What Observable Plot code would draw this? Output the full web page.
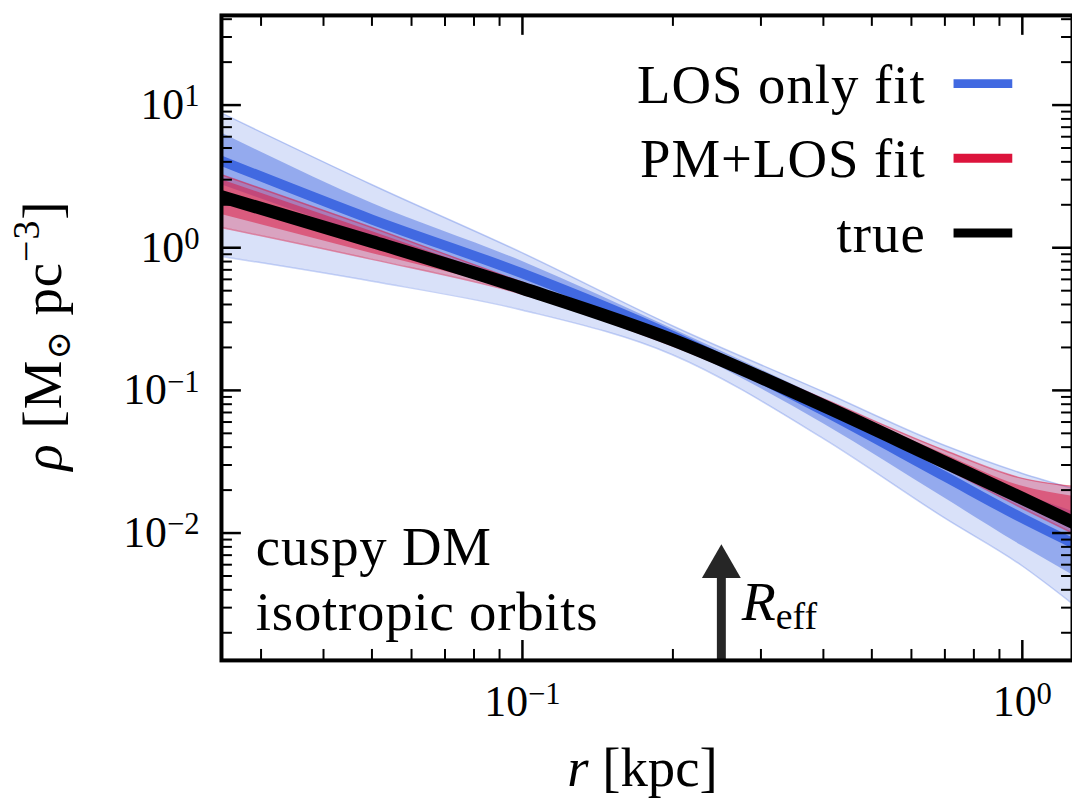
<!DOCTYPE html>
<html><head><meta charset="utf-8">
<script src="https://cdn.jsdelivr.net/npm/d3@7"></script>
<script src="https://cdn.jsdelivr.net/npm/@observablehq/plot@0.6"></script>
<style>
html,body{margin:0;padding:0;background:#fff;overflow:hidden;}
#chart{width:1072px;height:806px;overflow:hidden;position:relative;}
svg{display:block;}
</style></head><body><div id="chart"></div>
<script>
// ---- data ----
const radii      = [0.025, 0.05, 0.1, 0.2, 0.4, 0.7, 1.0, 1.26];
const trueRho    = [2.28, 1.107, 0.520, 0.2255, 0.0781, 0.0313, 0.01751, 0.01191];
const losMedian  = [4.07, 1.576, 0.66, 0.2405, 0.0721, 0.02494, 0.01271, 0.0085];
const los68Lo    = [2.765, 1.180, 0.5544, 0.2114, 0.05846, 0.01751, 0.0081, 0.005085];
const los68Hi    = [6.377, 2.05, 0.80, 0.2691, 0.08737, 0.03441, 0.01899, 0.01421];
const los95Lo    = [0.8695, 0.5818, 0.3651, 0.1772, 0.04595, 0.01271, 0.005875, 0.003191];
const los95Hi    = [8.79, 2.765, 0.92, 0.2825, 0.0978, 0.04107, 0.02618, 0.02057];
const pmOuterLo  = [1.386, 0.8288, 0.4722, 0.2047, 0.0721, 0.02837, 0.01492, 0.00998];
const pmOuterHi  = [3.248, 1.386, 0.5726, 0.2443, 0.08737, 0.0379, 0.02416, 0.02125];
const pmInnerLo  = [1.708, 0.9125, 0.4876, 0.2114, 0.07437, 0.0293, 0.0159, 0.01082];
const pmInnerHi  = [2.997, 1.299, 0.5544, 0.2366, 0.08461, 0.03553, 0.02125, 0.01809];
const xMajorTicks = [0.1, 1];
const yMajorTicks = [0.01, 0.1, 1, 10];
const legendLabels = ["LOS only fit", "PM+LOS fit", "true"];
const legendColors = ["#4169e1", "#dc143c", "#000000"];
const noteLines = ["cuspy DM", "isotropic orbits"];
const R_eff = 0.25;
const xDomain = [0.025, 1.26];
const yDomain = [0.00128, 42.5];

// ---- build table ----
const rows = radii.map((r, i) => ({
  r, truth: trueRho[i], med: losMedian[i],
  l68: los68Lo[i], h68: los68Hi[i], l95: los95Lo[i], h95: los95Hi[i],
  po: pmOuterLo[i], ph: pmOuterHi[i], pi: pmInnerLo[i], pj: pmInnerHi[i]
}));

function minorTicks(dom) {
  const out = [];
  for (let e = -4; e <= 2; e++) for (let m = 2; m <= 9; m++) {
    const v = m * Math.pow(10, e);
    if (v > dom[0] && v < dom[1]) out.push(v);
  }
  return out;
}
const xMinor = minorTicks(xDomain), yMinor = minorTicks(yDomain);

const W = 1077, H = 806, ML = 222, MT = 15, MB = 143, MR = 0;
const FW = W - ML - MR, FH = H - MT - MB;
const FONT = "'Liberation Serif', 'DejaVu Serif', serif";
const fmt = d => "10^" + String(Math.round(Math.log10(d))).replace("-", "\u2212");
const curve = "monotone-x";
const blue = "#4169e1", red = "#dc143c";

const plot = Plot.plot({
  width: W, height: H,
  marginLeft: ML, marginTop: MT, marginBottom: MB, marginRight: MR,
  style: {fontFamily: FONT, background: "white", overflow: "visible"},
  x: {type: "log", domain: xDomain},
  y: {type: "log", domain: yDomain},
  marks: [
    Plot.areaY(rows, {x: "r", y1: "l95", y2: "h95", fill: blue, fillOpacity: 0.2, curve, clip: "frame"}),
    Plot.lineY(rows, {x: "r", y: "l95", stroke: blue, strokeOpacity: 0.3, strokeWidth: 1.5, curve, clip: "frame"}),
    Plot.lineY(rows, {x: "r", y: "h95", stroke: blue, strokeOpacity: 0.3, strokeWidth: 1.5, curve, clip: "frame"}),
    Plot.areaY(rows, {x: "r", y1: "l68", y2: "h68", fill: blue, fillOpacity: 0.45, curve, clip: "frame"}),
    Plot.lineY(rows, {x: "r", y: "med", stroke: blue, strokeWidth: 10, curve, clip: "frame"}),
    Plot.areaY(rows, {x: "r", y1: "po", y2: "ph", fill: red, fillOpacity: 0.3, curve, clip: "frame"}),
    Plot.lineY(rows, {x: "r", y: "po", stroke: red, strokeOpacity: 0.45, strokeWidth: 1.5, curve, clip: "frame"}),
    Plot.lineY(rows, {x: "r", y: "ph", stroke: red, strokeOpacity: 0.45, strokeWidth: 1.5, curve, clip: "frame"}),
    Plot.areaY(rows, {x: "r", y1: "pi", y2: "pj", fill: red, fillOpacity: 0.5, curve, clip: "frame"}),
    Plot.lineY(rows, {x: "r", y: "truth", stroke: "black", strokeWidth: 13, curve, clip: "frame"}),
    // R_eff arrow
    Plot.ruleX([R_eff], {x: d => d, y1: yDomain[0], y2: 0.0058, stroke: "#262626", strokeWidth: 9}),
    Plot.dot([R_eff], {x: d => d, y: () => 0.0058, symbol: "triangle", r: 14.5, fill: "#262626", stroke: "none"}),
    // ticks (inward, all four sides)
    Plot.tickX(xMajorTicks, {x: d => d, insetTop: FH - 20, stroke: "black", strokeWidth: 2.5}),
    Plot.tickX(xMajorTicks, {x: d => d, insetBottom: FH - 20, stroke: "black", strokeWidth: 2.5}),
    Plot.tickX(xMinor, {x: d => d, insetTop: FH - 11, stroke: "black", strokeWidth: 2}),
    Plot.tickX(xMinor, {x: d => d, insetBottom: FH - 11, stroke: "black", strokeWidth: 2}),
    Plot.tickY(yMajorTicks, {y: d => d, insetRight: FW - 20, stroke: "black", strokeWidth: 2.5}),
    Plot.tickY(yMajorTicks, {y: d => d, insetLeft: FW - 20, stroke: "black", strokeWidth: 2.5}),
    Plot.tickY(yMinor, {y: d => d, insetRight: FW - 11, stroke: "black", strokeWidth: 2}),
    Plot.tickY(yMinor, {y: d => d, insetLeft: FW - 11, stroke: "black", strokeWidth: 2}),
    Plot.axisX(xMajorTicks, {anchor: "bottom", tickSize: 0, tickPadding: 25, tickFormat: fmt, fontSize: 44, label: null}),
    Plot.axisY(yMajorTicks, {anchor: "left", tickSize: 0, tickPadding: 22, tickFormat: fmt, fontSize: 44, label: null}),
    Plot.frame({stroke: "black", strokeWidth: 4})
  ]
});
document.getElementById("chart").appendChild(plot);

const svgNS = "http://www.w3.org/2000/svg";
// superscripts on tick labels
plot.querySelectorAll('g[aria-label$="tick label"] text').forEach(t => {
  const s = t.textContent;
  if (!s.includes("^")) return;
  const [b, e] = s.split("^");
  t.textContent = b;
  const ts = document.createElementNS(svgNS, "tspan");
  ts.setAttribute("dy", "-0.42em");
  ts.setAttribute("font-size", "0.7em");
  ts.textContent = e;
  t.appendChild(ts);
});
plot.querySelectorAll('g[aria-label$="tick label"]').forEach(g => g.setAttribute("fill", "black"));

const svg = d3.select(plot);
const xs = plot.scale("x");
const ann = svg.append("g").attr("font-family", FONT).attr("fill", "black").attr("text-anchor", "start");

// legend
legendLabels.forEach((lab, i) => {
  ann.append("text").attr("x", 930).attr("y", 103 + 75 * i)
    .attr("text-anchor", "end").attr("font-size", 55).attr("letter-spacing", 1).text(lab);
  ann.append("line").attr("x1", 958).attr("x2", 1017)
    .attr("y1", 84 + 75 * i).attr("y2", 84 + 75 * i)
    .attr("stroke", legendColors[i]).attr("stroke-width", 9);
});

// note
noteLines.forEach((s, i) => {
  ann.append("text").attr("x", 257).attr("y", 568 + 65 * i).attr("text-anchor", "start")
    .attr("font-size", 55).attr("letter-spacing", 0.8).text(s);
});

// R_eff label
const rx = xs.apply(R_eff);
const rt = ann.append("text").attr("x", rx + 21).attr("y", 623).attr("text-anchor", "start").attr("font-size", 56);
rt.append("tspan").attr("font-style", "italic").text("R");
rt.append("tspan").attr("font-size", 38).attr("dy", 9).text("eff");

// x label
const xc = ML + FW / 2;
const xl = ann.append("text").attr("x", xc - 4).attr("y", 790).attr("text-anchor", "middle").attr("font-size", 55);
xl.append("tspan").attr("font-style", "italic").text("r");
xl.append("tspan").text(" [kpc]");

// y label
const yc = MT + FH / 2;
const yl = ann.append("text").attr("transform", `translate(61,${yc - 2}) rotate(-90)`)
  .attr("text-anchor", "middle").attr("font-size", 55).attr("letter-spacing", 1);
yl.append("tspan").attr("font-style", "italic").text("\u03c1");
yl.append("tspan").text(" [M");
yl.append("tspan").attr("font-size", 34).attr("dy", 9).text("\u2299");
yl.append("tspan").attr("dy", -9).text(" pc");
yl.append("tspan").attr("font-size", 38).attr("dy", -22).text("\u22123");
yl.append("tspan").attr("dy", 22).text("]");
</script>
</body></html>
